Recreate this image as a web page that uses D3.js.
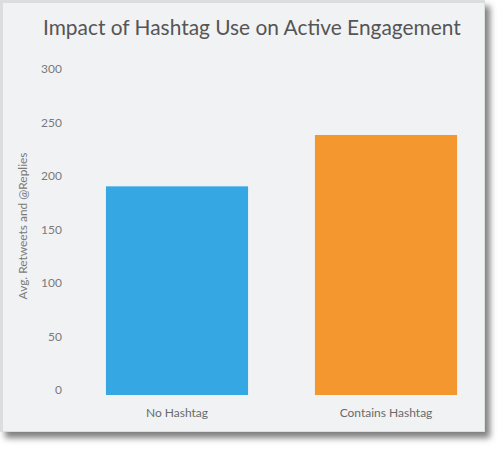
<!DOCTYPE html>
<html><head><meta charset="utf-8">
<script src="https://cdn.jsdelivr.net/npm/d3@7"></script>
<style>html,body{margin:0;padding:0;background:#fff;overflow:hidden}</style>
</head><body>
<script>
const categories = ["No Hashtag", "Contains Hashtag"];
const values = [195, 243];
const colors = ["#35a7e3", "#f3972e"];
const yTicks = [0, 50, 100, 150, 200, 250, 300];
const title = "Impact of Hashtag Use on Active Engagement";
const yLabel = "Avg. Retweets and @Replies";

const W = 503, H = 449;
const svg = d3.select("body").append("svg").attr("width", W).attr("height", H);
const defs = svg.append("defs");
const f = defs.append("filter").attr("id","sh").attr("x","-5%").attr("y","-5%").attr("width","115%").attr("height","115%");
f.append("feDropShadow").attr("dx",5).attr("dy",6).attr("stdDeviation",3).attr("flood-color","#555").attr("flood-opacity",0.75);

// frame
svg.append("rect").attr("x",0).attr("y",0).attr("width",485).attr("height",432).attr("fill","#dcdddd").attr("filter","url(#sh)");
svg.append("rect").attr("x",3).attr("y",3).attr("width",481).attr("height",428).attr("fill","#f1f2f4");

const x = d3.scaleBand().domain(categories).range([72.5, 490.5]).paddingInner(0.32).paddingOuter(0.16);
const y = d3.scaleLinear().domain([0, 300]).range([395, 74]);

// y tick labels
svg.append("g").selectAll("text").data(yTicks).join("text")
  .attr("x", 62).attr("y", d => y(d) - 5).attr("dy", "0.35em")
  .attr("text-anchor", "end")
  .attr("font-family", "Lato").attr("font-size", 12).attr("fill", "#7a7a7a")
  .text(d => d);

// bars
svg.append("g").selectAll("rect").data(values).join("rect")
  .attr("x", (d,i) => x(categories[i])).attr("width", x.bandwidth())
  .attr("y", d => y(d)).attr("height", d => y(0) - y(d))
  .attr("fill", (d,i) => colors[i]);

// category labels
svg.append("g").selectAll("text").data(categories).join("text")
  .attr("x", d => x(d) + x.bandwidth()/2).attr("y", 417)
  .attr("text-anchor", "middle")
  .attr("font-family", "Lato").attr("font-size", 12).attr("fill", "#6a6a6a")
  .text(d => d);

// title
const t = svg.append("text").attr("x", 43).attr("y", 35)
  .attr("font-family", "Lato").attr("font-size", 22).attr("fill", "#555")
  .text(title);
const tl = t.node().getComputedTextLength();
t.attr("font-size", 22 * 418 / tl);

// y label
const yl = svg.append("text").attr("transform", "translate(27,226) rotate(-90)")
  .attr("text-anchor", "middle")
  .attr("font-family", "Lato").attr("font-size", 11).attr("fill", "#7a7a7a")
  .text(yLabel);
const yll = yl.node().getComputedTextLength();
yl.attr("font-size", 11 * 147 / yll);
</script>
</body></html>
